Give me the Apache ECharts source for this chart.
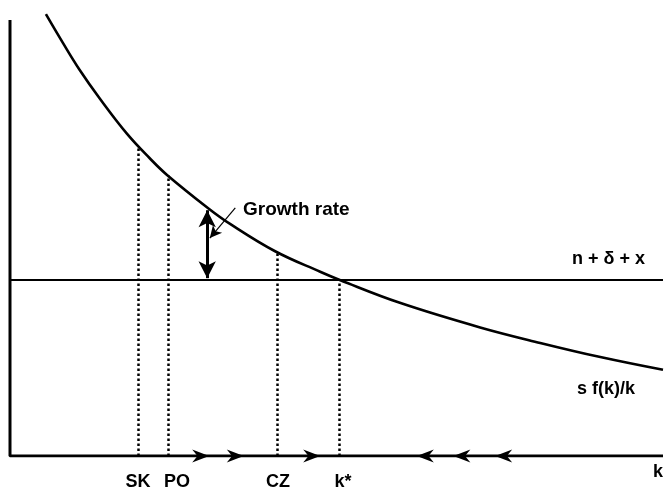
<!DOCTYPE html>
<html>
<head>
<meta charset="utf-8">
<script src="https://cdn.jsdelivr.net/npm/echarts@6/dist/echarts.min.js"></script>
<style>
html,body{margin:0;padding:0;background:#fff;}
#chart{width:664px;height:492px;}
</style>
</head>
<body>
<div id="chart"></div>
<script>
// k values (horizontal, 0..100) and s f(k)/k curve values (vertical, 0..100)
const kValues = [5.5, 8.1, 10.7, 13.8, 17.9, 21.4, 24.0, 30.3, 33.7, 40.6, 47.5, 50.5, 59.7, 72.0, 81.2, 90.4, 100];
const savingCurve = [96.9, 90.6, 84.6, 78.3, 70.7, 65.3, 61.7, 54.4, 50.9, 44.9, 40.4, 38.6, 33.6, 28.2, 24.8, 21.7, 18.9];
// n + delta + x level
const breakEven = 38.6;
// marked countries / steady state
const tickLabels = ['SK', 'PO', 'CZ', 'k*'];
const tickPositions = [19.6, 24.2, 40.9, 50.4];
const dropTops = [67.8, 61.5, 44.8, 38.6];
// direction arrows on the k axis
const rightArrows = [29.2, 34.5, 46.2];
const leftArrows = [63.6, 69.2, 75.6];
// growth-rate double arrow
const growthArrowK = 30.2;
const growthArrowRange = [53.9, 39.0];
const pointerFrom = [34.5, 54.4];
const pointerTo = [30.6, 47.8];

const FONT = 'Liberation Sans, Arial, Helvetica, sans-serif';
const labelOffsets = [[0,0],[9,0],[1,0],[4,0]];
const arrowPath = 'path://M0,0 L16,6 L0,12 L5,6 Z';

const chart = echarts.init(document.getElementById('chart'));
chart.setOption({
  animation: false,
  backgroundColor: '#fff',
  grid: {left: 10, right: 1, top: 0, bottom: 36},
  xAxis: {type: 'value', min: 0, max: 100, show: false},
  yAxis: {type: 'value', min: 0, max: 100, show: false},
  series: [
    // axes
    {type: 'line', data: [[0, 95.6], [0, 0], [100, 0]], symbol: 'none',
     lineStyle: {color: '#000', width: 3}, z: 3},
    // break-even line
    {type: 'line', data: [[0, breakEven], [100, breakEven]], symbol: 'none',
     lineStyle: {color: '#000', width: 2.2}, z: 3},
    // s f(k)/k curve
    {type: 'line', data: kValues.map((k, i) => [k, savingCurve[i]]), symbol: 'none',
     smooth: 0.4, lineStyle: {color: '#000', width: 2.6}, z: 4},
    // dotted drop lines + tick labels
    {type: 'scatter', symbolSize: 0, itemStyle: {color: '#000', opacity: 1},
     data: tickPositions.map((k, i) => ({value: [k, 0],
        label: {offset: labelOffsets[i]}})),
     label: {show: true, position: 'bottom', distance: 17,
       formatter: p => tickLabels[p.dataIndex],
       fontFamily: FONT, fontWeight: 'bold', fontSize: 18, color: '#000', opacity: 1},
     markLine: {silent: true, symbol: ['none', 'none'], label: {show: false},
       lineStyle: {color: '#000', width: 2.5, type: [2.5, 2.5], opacity: 1},
       data: tickPositions.map((k, i) => [{coord: [k, 0]}, {coord: [k, dropTops[i]]}])},
     z: 2},
    // arrows on k axis
    {type: 'scatter', symbol: arrowPath, symbolSize: [17, 13],
     itemStyle: {color: '#000', opacity: 1},
     data: rightArrows.map(k => [k, 0]), z: 5},
    {type: 'scatter', symbol: arrowPath, symbolSize: [17, 13], symbolRotate: 180,
     itemStyle: {color: '#000', opacity: 1},
     data: leftArrows.map(k => [k, 0]), z: 5},
    // growth-rate arrows
    {type: 'line', data: [],
     markLine: {silent: true, label: {show: false},
       data: [
         [{coord: [growthArrowK, growthArrowRange[0]], symbol: 'arrow', symbolSize: [13, 17],
           lineStyle: {width: 3}},
          {coord: [growthArrowK, growthArrowRange[1]], symbol: 'arrow', symbolSize: [13, 17]}],
         [{coord: pointerFrom, symbol: 'none', lineStyle: {width: 1.2}},
          {coord: pointerTo, symbol: 'arrow', symbolSize: [9, 12]}]
       ],
       lineStyle: {color: '#000', type: 'solid', opacity: 1}
     }, z: 6}
  ],
  graphic: [
    {type: 'text', left: 243, top: 200, style: {text: 'Growth rate', font: 'bold 19px ' + FONT, fill: '#000'}},
    {type: 'text', left: 572, top: 250, style: {text: 'n + δ + x', font: 'bold 18px ' + FONT, fill: '#000'}},
    {type: 'text', left: 577, top: 380, style: {text: 's f(k)/k', font: 'bold 18px ' + FONT, fill: '#000'}},
    {type: 'text', left: 653, top: 463, style: {text: 'k', font: 'bold 18px ' + FONT, fill: '#000'}}
  ]
});
</script>
</body>
</html>
